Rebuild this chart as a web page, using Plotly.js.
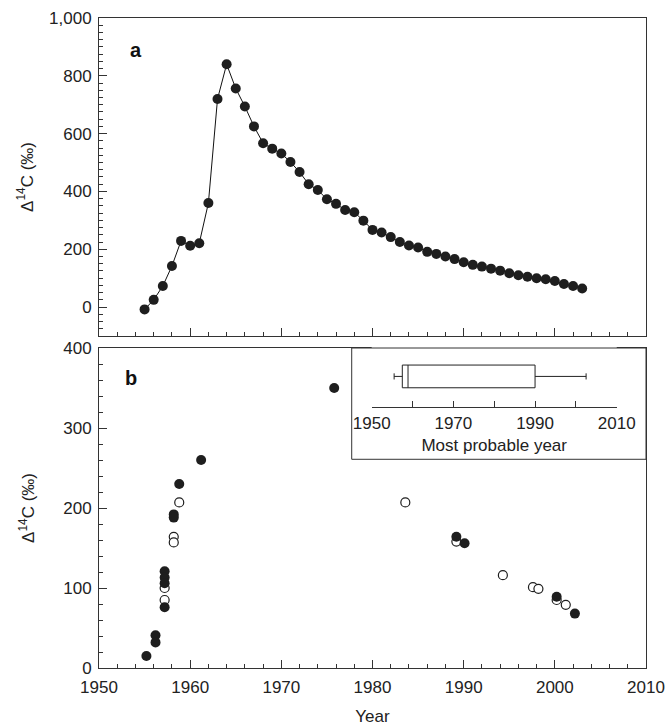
<!DOCTYPE html>
<html>
<head>
<meta charset="utf-8">
<script src="https://cdn.plot.ly/plotly-3.0.1.min.js"></script>
<style>
  html, body { margin: 0; padding: 0; background: #ffffff; }
  #chart { width: 667px; height: 726px; }
</style>
</head>
<body>
<div id="chart"></div>
<script>
// ---- Panel a: atmospheric record ----
const yearsA = [1955, 1956, 1957, 1958, 1959, 1960, 1961, 1962, 1963, 1964,
                1965, 1966, 1967, 1968, 1969, 1970, 1971, 1972, 1973, 1974,
                1975, 1976, 1977, 1978, 1979, 1980, 1981, 1982, 1983, 1984,
                1985, 1986, 1987, 1988, 1989, 1990, 1991, 1992, 1993, 1994,
                1995, 1996, 1997, 1998, 1999, 2000, 2001, 2002, 2003];
const d14cA = [-8, 25, 73, 142, 229, 212, 221, 360, 720, 840,
               756, 694, 625, 567, 548, 531, 502, 467, 425, 405,
               373, 357, 336, 328, 299, 267, 258, 242, 225, 213,
               206, 191, 184, 175, 166, 155, 146, 140, 133, 126,
               117, 110, 105, 100, 96, 90, 80, 73, 64];

// ---- Panel b: samples (filled and open symbols) ----
const filledYears = [1955.2, 1956.2, 1956.2, 1957.2, 1957.2, 1957.2, 1957.2, 1958.2, 1958.2,
                     1958.8, 1961.2, 1975.8, 1989.2, 1990.1, 2000.2, 2002.2];
const filledD14c  = [15, 41, 32, 121, 113, 106, 76, 192, 188,
                     230, 260, 350, 164, 156, 89, 68];
const openYears   = [1957.2, 1957.2, 1958.2, 1958.2, 1958.8, 1983.6, 1989.2, 1994.3,
                     1997.6, 1998.2, 2000.2, 2001.2];
const openD14c    = [100, 85, 164, 157, 207, 207, 158, 116,
                     101, 99, 85, 79];

// ---- Inset: box plot of most probable year ----
const boxLowerFence = [1955.5];
const boxQ1 = [1957.5];
const boxMedian = [1958.9];
const boxQ3 = [1990];
const boxUpperFence = [2002.5];

const dark = '#1e1e1e';
const font = {family: 'Liberation Sans, Arial, sans-serif', size: 17, color: '#222'};

const traces = [
  {
    x: yearsA, y: d14cA, xaxis: 'x', yaxis: 'y', type: 'scatter', mode: 'lines+markers',
    line: {color: '#111', width: 1},
    marker: {color: dark, size: 10},
    hoverinfo: 'skip'
  },
  {
    x: openYears, y: openD14c, xaxis: 'x2', yaxis: 'y2', type: 'scatter', mode: 'markers',
    marker: {color: '#ffffff', size: 9, line: {color: dark, width: 1.2}},
    hoverinfo: 'skip'
  },
  {
    x: filledYears, y: filledD14c, xaxis: 'x2', yaxis: 'y2', type: 'scatter', mode: 'markers',
    marker: {color: dark, size: 10, line: {color: dark, width: 0}},
    hoverinfo: 'skip'
  },
  {
    type: 'box', orientation: 'h', xaxis: 'x3', yaxis: 'y3',
    y: [0],
    lowerfence: boxLowerFence, q1: boxQ1, median: boxMedian, q3: boxQ3, upperfence: boxUpperFence,
    width: 0.75, whiskerwidth: 0.27,
    fillcolor: 'rgba(255,255,255,0)',
    line: {color: '#222', width: 1},
    boxpoints: false,
    hoverinfo: 'skip'
  }
];

const axisCommon = {
  showgrid: false, zeroline: false, showline: true, mirror: true,
  linecolor: '#333', linewidth: 1,
  ticks: 'inside', tickcolor: '#333', tickwidth: 1,
  tickfont: font
};

const layout = {
  width: 667, height: 726,
  margin: {l: 99, r: 21, t: 18, b: 58},
  paper_bgcolor: '#ffffff', plot_bgcolor: '#ffffff',
  showlegend: false,
  font: font,
  xaxis: Object.assign({}, axisCommon, {
    anchor: 'y', domain: [0, 1], range: [1950, 2010],
    tick0: 1950, dtick: 10, ticklen: 8, showticklabels: false,
    minor: {tick0: 1950, dtick: 2, ticklen: 4, ticks: 'inside', tickcolor: '#333', showgrid: false}
  }),
  yaxis: Object.assign({}, axisCommon, {
    anchor: 'x', domain: [0.5108, 1], range: [-100, 1000],
    tick0: 0, dtick: 200, ticklen: 8, tickformat: ',d', ticklabelstandoff: 3,
    minor: {tick0: 0, dtick: 25, ticklen: 4, ticks: 'inside', tickcolor: '#333', showgrid: false},
    title: {text: 'Δ<sup>14</sup>C (‰)', font: font, standoff: 11}
  }),
  xaxis2: Object.assign({}, axisCommon, {
    anchor: 'y2', domain: [0, 1], range: [1950, 2010],
    tick0: 1950, dtick: 10, ticklen: 8, ticklabelstandoff: 4,
    minor: {tick0: 1950, dtick: 2, ticklen: 4, ticks: 'inside', tickcolor: '#333', showgrid: false},
    title: {text: 'Year', font: font, standoff: 18}
  }),
  yaxis2: Object.assign({}, axisCommon, {
    anchor: 'x2', domain: [0, 0.4923], range: [0, 400],
    tick0: 0, dtick: 100, ticklen: 8, ticklabelstandoff: 3,
    minor: {tick0: 0, dtick: 20, ticklen: 4, ticks: 'inside', tickcolor: '#333', showgrid: false},
    title: {text: 'Δ<sup>14</sup>C (‰)', font: font, standoff: 24}
  }),
  xaxis3: {
    anchor: 'y3', domain: [0.4985, 0.9465], range: [1950, 2010],
    showgrid: false, zeroline: false, showline: true, mirror: false,
    linecolor: '#333', linewidth: 1,
    ticks: 'inside', tick0: 1950, dtick: 20, ticklen: 6, tickcolor: '#333',
    ticklabelstandoff: 1,
    minor: {tick0: 1950, dtick: 10, ticklen: 6, ticks: 'inside', tickcolor: '#333', showgrid: false},
    tickfont: font,
    title: {text: 'Most probable year', font: font, standoff: 7}
  },
  yaxis3: {
    anchor: 'x3', domain: [0.402, 0.4952], range: [-1, 1],
    visible: false, showgrid: false, zeroline: false
  },
  shapes: [
    {type: 'rect', xref: 'paper', yref: 'paper', x0: 0.462, x1: 1, y0: 0.3211, y1: 0.4923,
     line: {color: '#333', width: 1}, fillcolor: 'rgba(0,0,0,0)', layer: 'above'}
  ],
  annotations: [
    {text: '<b>a</b>', xref: 'paper', yref: 'paper', x: 0.0676, y: 0.9507,
     xanchor: 'center', yanchor: 'middle', showarrow: false,
     font: {family: 'Liberation Sans, Arial, sans-serif', size: 20, color: '#111'}},
    {text: '<b>b</b>', xref: 'paper', yref: 'paper', x: 0.0585, y: 0.4462,
     xanchor: 'center', yanchor: 'middle', showarrow: false,
     font: {family: 'Liberation Sans, Arial, sans-serif', size: 20, color: '#111'}}
  ]
};

Plotly.newPlot('chart', traces, layout, {staticPlot: true, displayModeBar: false});
</script>
</body>
</html>
